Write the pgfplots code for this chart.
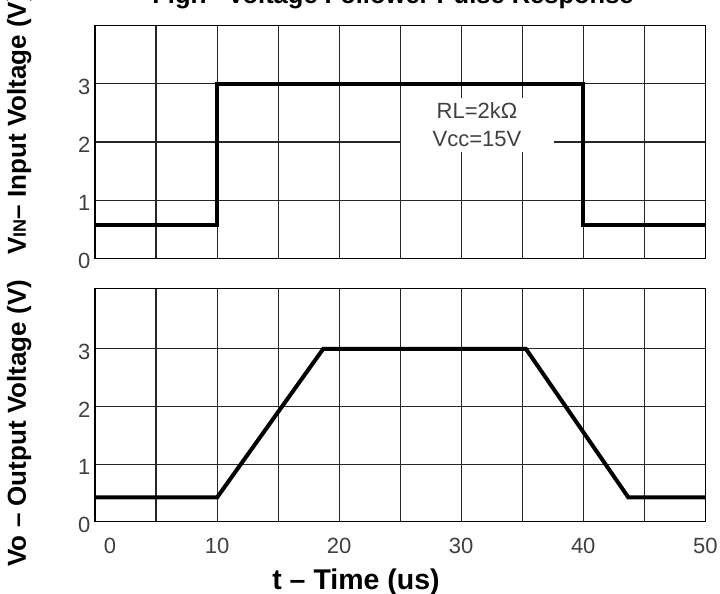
\documentclass[border=0pt]{standalone}
\usepackage{fontspec}
\setmainfont{Liberation Sans}
\usepackage{pgfplots}
\pgfplotsset{compat=1.18}
\definecolor{gridc}{HTML}{262626}
\definecolor{tickc}{HTML}{404040}
\pgfplotsset{
  panel/.style={
    scale only axis, width=610.3pt,
    xmin=0, xmax=50, ymin=0,
    ytick={0,1,2,3},
    xtick={0,10,...,50}, minor xtick={5,15,...,45},
    grid=both,
    major grid style={draw=gridc, line width=1.1pt},
    minor grid style={draw=gridc, line width=1.1pt},
    axis line style={line width=1.5pt, black},
    major tick length=0pt, minor tick length=0pt,
    /pgf/number format/assume math mode=true,
    yticklabel style={font=\fontsize{22}{24}\selectfont, text=tickc, yshift=-3pt, xshift=-1pt},
    xticklabel style={font=\fontsize{22}{24}\selectfont, text=tickc},
    ylabel style={font=\fontsize{26}{28}\selectfont\bfseries, anchor=base west},
  },
  sig/.style={black, line width=4pt, line join=miter},
}
\begin{document}
\begin{tikzpicture}[x=1pt,y=1pt]
% upper panel: input
\begin{axis}[panel,
  at={(95pt,335.7pt)}, anchor=south west,
  height=232.6pt, ymax=4,
  xticklabels={},
  title={Fig.7- Voltage Follower Pulse Response},
  title style={font=\fontsize{25.5}{28}\selectfont\bfseries, anchor=base,
    at={(axis description cs:0.4883,1.0675)}},
  ylabel={V{\fontsize{18}{20}\selectfont IN}– Input Voltage (V)},
  ylabel style={at={(axis description cs:-0.1131,0.0)}},
]
\addplot[sig] coordinates {(0,0.57) (10,0.57) (10,3) (40,3) (40,0.57) (50,0.57)};
\node[fill=white, inner sep=0pt, minimum width=153pt, minimum height=54pt,
  align=center, text=tickc, font=\fontsize{22}{28}\selectfont]
  at (axis cs:31.3,2.30) {RL=2kΩ\\Vcc=15V};
\end{axis}
% lower panel: output
\begin{axis}[panel,
  at={(95pt,72.3pt)}, anchor=south west,
  height=233.4pt, ymax=4.05,
  xticklabels={{\hspace*{30pt}0},10,20,30,40,50},
  xticklabel style={yshift=-13pt},
  xlabel={t – Time (us)},
  xlabel style={font=\fontsize{28.5}{30}\selectfont\bfseries, anchor=base,
    at={(axis description cs:0.4277,-0.2896)}},
  ylabel={Vo – Output Voltage (V)},
  ylabel style={at={(axis description cs:-0.1131,-0.2069)}},
]
\addplot[sig] coordinates {(0,0.42) (10,0.42) (18.7,3) (35.3,3) (43.7,0.42) (50,0.42)};
\end{axis}
\pgfresetboundingbox
\path[use as bounding box] (0,0) rectangle (720,594);
\end{tikzpicture}
\end{document}
